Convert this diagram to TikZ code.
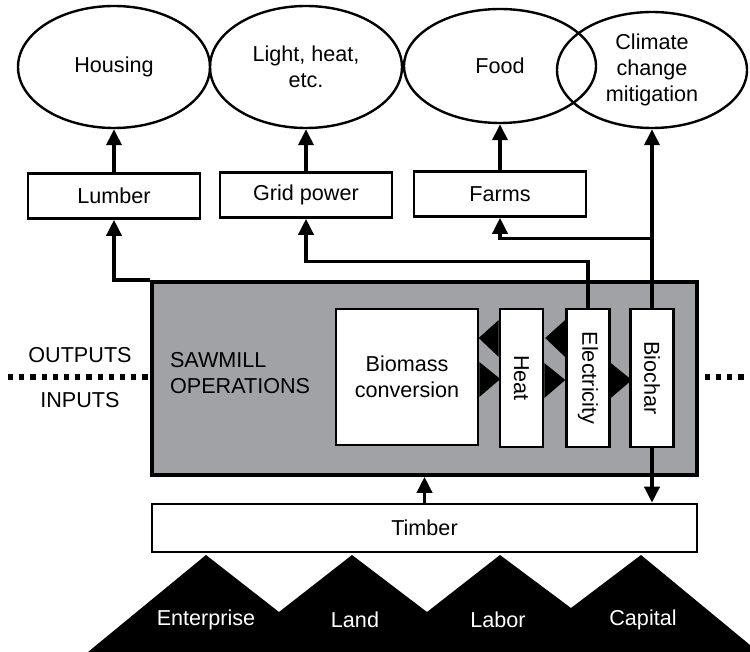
\documentclass[tikz,border=0pt]{standalone}
\usepackage{fontspec}
\setmainfont{Liberation Sans}
\usetikzlibrary{shapes.geometric,arrows.meta,positioning,calc}

\definecolor{millgray}{RGB}{161,162,165}

\tikzset{
  goal/.style={draw, ellipse, line width=1.2pt, minimum width=96pt, minimum height=61pt, inner sep=0pt, align=center},
  sink/.style={draw, fill=white, line width=1.3pt, minimum width=86pt, minimum height=22.5pt, inner sep=0pt},
  unit/.style={draw, fill=white, line width=1.3pt, minimum width=21.5pt, minimum height=69pt, inner sep=0pt},
  flow/.style={line width=1.8pt, -{Triangle[width=7.5pt,length=8pt]}},
  divide/.style={line width=2.6pt, dash pattern=on 2.6pt off 3pt},
}

\begin{document}
\begin{tikzpicture}[x=0.5pt, y=-0.5pt, font=\fontsize{10.8}{12.8}\selectfont]
	\useasboundingbox (0,0) rectangle (750,652);

	% Draw the goals
	\node[goal] (housing) at (114,67) {Housing};
	\node[goal] (light)   at (306,67) {Light, heat,\\ etc.};
	\node[goal, minimum height=57pt] (food) at (500,66) {Food};
	\node[goal, minimum width=95pt, minimum height=58pt] (climate) at (652,70) {Climate\\ change\\ mitigation};

	% Draw the products
	\node[sink] (lumber) at (114,196) {Lumber};
	\node[sink] (grid)   at (306,195) {Grid power};
	\node[sink] (farms)  at (500,194) {Farms};

	% Draw the sawmill
	\node[draw, fill=millgray, line width=1.8pt, minimum width=272.5pt, minimum height=96.5pt, inner sep=0pt] (sawmill) at (424.5,378.5) {};
	\node[anchor=west, align=left] (label) at (163,373) {SAWMILL\\ OPERATIONS};
	\node[draw, fill=white, line width=1.3pt, minimum width=71pt, minimum height=68pt, inner sep=0pt, align=center] (biomass) at (407,377) {Biomass\\ conversion};
	\node[unit] (heat)        at (521.5,378) {\rotatebox{-90}{Heat}};
	\node[unit] (electricity) at (588,378)   {\rotatebox{-90}{Electricity}};
	\node[unit] (biochar)     at (652,378)   {\rotatebox{-90}{Biochar}};

	% Exchanges between the units
	\foreach \n in {biomass,heat,electricity}
		\fill ($(\n.east)+(0,-15)$) -- ($(\n.east)+(0,20)$) -- ($(\n.east)+(21,2)$) -- cycle;
	\foreach \n in {heat,electricity}
		\fill ($(\n.west)+(0,-58)$) -- ($(\n.west)+(0,-21)$) -- ($(\n.west)+(-20,-40)$) -- cycle;

	% Draw the inputs
	\node[draw, fill=white, line width=1.3pt, minimum width=272.5pt, minimum height=24pt, inner sep=0pt] (timber) at (424.5,528) {Timber};
	\fill (88,652) -- (206,555) -- (279,612) -- (352,555) -- (427,612) -- (500,555)
		-- (571,608) -- (641,555) -- (750,645) -- (750,652) -- cycle;
	\node[text=white] (enterprise) at (206,620) {Enterprise};
	\node[text=white] (land)       at (355,620) {Land};
	\node[text=white] (labor)      at (498,620) {Labor};
	\node[text=white] (capital)    at (643,620) {Capital};

	% Outputs and inputs divide
	\node (outputs) at (80,355) {OUTPUTS};
	\node (inputs)  at (80,400) {INPUTS};
	\coordinate (leftend)  at (8,377);
	\coordinate (rightend) at (750,377);
	\draw[divide] (leftend) -- (sawmill.west |- leftend);
	\draw[divide] ($(sawmill.east |- rightend)+(6,0)$) -- (rightend);

	% Connect with arrows
	\draw[flow] (sawmill.north west) -| (lumber.south);
	\draw[flow] (electricity.north) -- ++(0,-46) -| (grid.south);
	\draw[flow] (biochar.north) -- (climate.south);
	\coordinate (fork) at ($(biochar.north)+(0,-69)$);
	\draw[flow] (fork) -| (farms.south);
	\draw[flow] (lumber.north) -- (housing.south);
	\draw[flow] (grid.north) -- (light.south);
	\draw[flow] (farms.north) -- (food.south);
	\draw[flow] (timber.north) -- (sawmill.south);
	\draw[flow] (biochar.south) -- (biochar.south |- timber.north);
\end{tikzpicture}
\end{document}
